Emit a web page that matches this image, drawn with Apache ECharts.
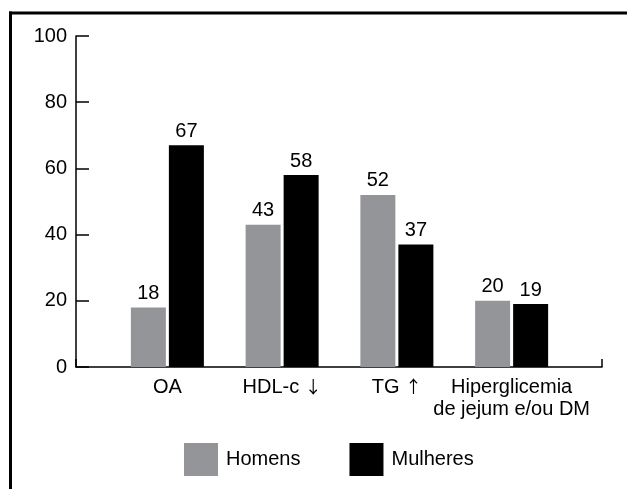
<!DOCTYPE html>
<html>
<head>
<meta charset="utf-8">
<script src="https://cdn.jsdelivr.net/npm/echarts@6/dist/echarts.min.js"></script>
<style>
    html, body { margin: 0; padding: 0; background: #fff; }
    #chart { width: 627px; height: 489px; }
</style>
</head>
<body>
<div id="chart"></div>
<script>
// dados
let categorias = ['OA', 'HDL-c \u2193', 'TG \u2191', 'Hiperglicemia\nde jejum e/ou DM'];
let homens = [18, 43, 52, 20];
let mulheres = [67, 58, 37, 19];
let yTicks = [0, 20, 40, 60, 80, 100];

let fonte = '"Liberation Sans", Arial, sans-serif';

let rotulo = {
    show: true,
    position: 'top',
    distance: 4,
    color: '#000',
    fontSize: 20,
    fontFamily: fonte
};

// setas com fonte mais larga
let formataCategoria = v => v.replace(/([\u2191\u2193])/g, '{seta|$1}');

let option = {
    animation: false,
    backgroundColor: '#fff',
    legend: {
        left: 179,
        top: 438,
        icon: 'rect',
        itemWidth: 34,
        itemHeight: 33,
        itemGap: 49,
        textStyle: { fontSize: 20, color: '#000', fontFamily: fonte, padding: [0, 0, 0, 3] },
        data: ['Homens', 'Mulheres']
    },
    grid: [
        // moldura dos eixos
        { left: 76, right: 25, top: 36, bottom: 122 },
        // barras
        { left: 110, right: 58, top: 36, bottom: 122 }
    ],
    xAxis: [
        {
            gridIndex: 0,
            type: 'value',
            min: 0,
            max: 1,
            interval: 1,
            axisLine: { show: true, lineStyle: { color: '#000', width: 1.5 } },
            axisTick: {
                show: true,
                inside: true,
                length: 8,
                interval: (i, v) => v === 1,
                lineStyle: { color: '#000', width: 1.5 }
            },
            axisLabel: { show: false },
            splitLine: { show: false }
        },
        {
            gridIndex: 1,
            type: 'category',
            data: categorias,
            axisLine: { show: false },
            axisTick: { show: false },
            axisLabel: {
                margin: 9,
                color: '#000',
                fontSize: 20,
                lineHeight: 22,
                fontFamily: fonte,
                interval: 0,
                formatter: formataCategoria,
                rich: {
                    seta: { fontFamily: '"Noto Sans CJK SC"', fontSize: 17, color: '#000', lineHeight: 22 }
                }
            }
        }
    ],
    yAxis: [
        {
            gridIndex: 0,
            type: 'value',
            min: yTicks[0],
            max: yTicks[yTicks.length - 1],
            interval: yTicks[1] - yTicks[0],
            axisLine: { show: true, lineStyle: { color: '#000', width: 1.5 } },
            axisTick: { show: true, inside: true, length: 13, lineStyle: { color: '#000', width: 1.5 } },
            axisLabel: { margin: 9, color: '#000', fontSize: 20, fontFamily: fonte },
            splitLine: { show: false }
        },
        {
            gridIndex: 1,
            type: 'value',
            min: yTicks[0],
            max: yTicks[yTicks.length - 1],
            show: false
        }
    ],
    graphic: [
        { type: 'line', shape: { x1: 10.5, y1: 11.5, x2: 10.5, y2: 489 }, style: { stroke: '#000', lineWidth: 3 } },
        { type: 'line', shape: { x1: 9, y1: 13, x2: 627, y2: 13 }, style: { stroke: '#000', lineWidth: 3 } }
    ],
    series: [
        {
            name: 'Homens',
            type: 'bar',
            xAxisIndex: 1,
            yAxisIndex: 1,
            barWidth: 35,
            barGap: '8.6%',
            data: homens,
            itemStyle: { color: '#939598' },
            label: rotulo
        },
        {
            name: 'Mulheres',
            type: 'bar',
            xAxisIndex: 1,
            yAxisIndex: 1,
            barWidth: 35,
            data: mulheres,
            itemStyle: { color: '#000' },
            label: rotulo
        }
    ]
};

let chart = echarts.init(document.getElementById('chart'));
chart.setOption(option);
</script>
</body>
</html>
